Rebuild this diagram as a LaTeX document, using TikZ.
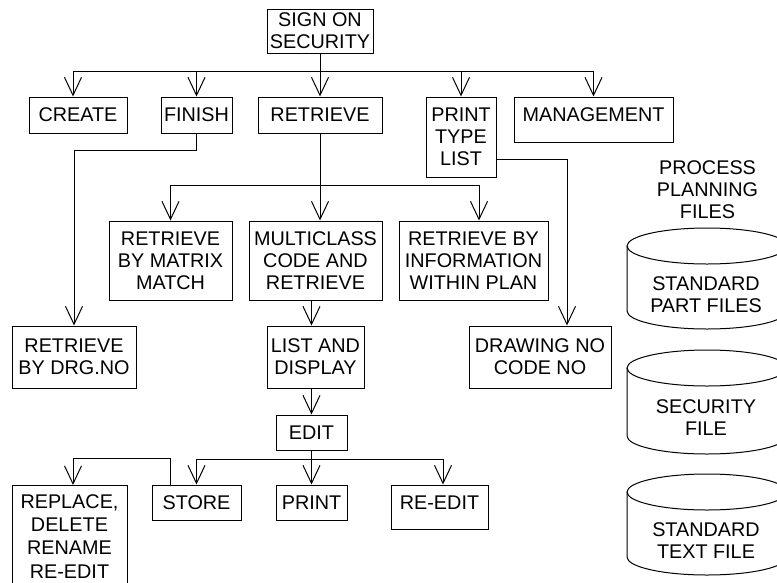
\documentclass[tikz,border=0pt]{standalone}
\usepackage{fontspec}
\setmainfont{Liberation Sans}
\usetikzlibrary{arrows.meta}

\begin{document}
\begin{tikzpicture}[x=1pt, y=-1pt, line width=1pt,
	box/.style={draw, align=center, inner sep=0pt, font=\fontsize{19.8}{22}\selectfont},
	txt/.style={align=center, inner sep=0pt, font=\fontsize{19.8}{22}\selectfont},
	arr/.style={-{Straight Barb[length=18pt, width=17pt]}}]
	\useasboundingbox (0,0) rectangle (777,582);
	
	% 第一层
	\node[box, minimum width=106pt, minimum height=44pt] (sign) at (320,31) {SIGN ON\\SECURITY};
	\node[box, minimum width=98pt, minimum height=36pt] (create) at (78,115) {CREATE};
	\node[box, minimum width=71pt, minimum height=36pt] (finish) at (196.5,115) {FINISH};
	\node[box, minimum width=124pt, minimum height=36pt] (retrieve) at (320,115) {RETRIEVE};
	\node[box, minimum width=70pt, minimum height=80pt] (ptype) at (461,137) {PRINT\\TYPE\\LIST};
	\node[box, minimum width=159pt, text height=24.7pt, text depth=20.3pt, anchor=base] (manage) at (593.5,121.7) {MANAGEMENT};
	
	% 检索
	\node[box, minimum width=123pt, minimum height=79pt] (matrix) at (170.5,260.5) {RETRIEVE\\BY MATRIX\\MATCH};
	\node[box, minimum width=133pt, minimum height=79pt] (multi) at (315.5,260.5) {MULTICLASS\\CODE AND\\RETRIEVE};
	\node[box, minimum width=149pt, minimum height=79pt] (info) at (473.5,260.5) {RETRIEVE BY\\INFORMATION\\WITHIN PLAN};
	\node[box, minimum width=124pt, minimum height=62pt] (drgno) at (74,357) {RETRIEVE\\BY DRG.NO};
	\node[box, minimum width=97pt, minimum height=62pt] (listd) at (315.5,357) {LIST AND\\DISPLAY};
	\node[box, minimum width=142pt, minimum height=62pt] (drawing) at (540,357) {DRAWING NO\\CODE NO};
	
	% 编辑
	\node[box, minimum width=71pt, minimum height=35pt] (edit) at (311.5,432.5) {EDIT};
	\node[box, minimum width=89pt, minimum height=35pt] (store) at (196.5,502.5) {STORE};
	\node[box, minimum width=71pt, minimum height=35pt] (printb) at (311.5,502.5) {PRINT};
	\node[box, minimum width=97pt, text height=24.3pt, text depth=19.7pt, anchor=base] (reedit) at (439.5,509.3) {RE-EDIT};
	\node[box, anchor=north, minimum width=115pt, inner ysep=9pt, font=\fontsize{19.8}{23.3}\selectfont] (replace) at (69.5,485) {REPLACE,\\DELETE\\RENAME\\RE-EDIT};
	
	% 第一层连线
	\coordinate (j1) at (320,71);
	\draw (sign.south) -- (j1);
	\draw[arr] (j1) -| ([xshift=-5pt]create.north);
	\draw[arr] (j1) -| (finish.north);
	\draw[arr] (j1) -- (retrieve.north);
	\draw[arr] (j1) -| (ptype.north);
	\draw[arr] (j1) -| (manage.north);
	
	% 检索连线
	\coordinate (j2) at (320,185);
	\draw (retrieve.south) -- (j2);
	\draw[arr] (j2) -| (matrix.north);
	\draw[arr] (j2) -- ([xshift=4.5pt]multi.north);
	\draw[arr] (j2) -| ([xshift=5.5pt]info.north);
	\draw[arr] (finish.south) -- ++(0,17) -| (drgno.north);
	\draw[arr] ([yshift=-22pt]ptype.east) -| ([xshift=27pt]drawing.north);
	\draw[arr] (multi.south -| edit.north) -- (listd.north -| edit.north);
	\draw[arr] (listd.south -| edit.north) -- (edit.north);
	
	% 编辑连线
	\coordinate (j3) at (311.5,459);
	\draw (edit.south) -- (j3);
	\draw[arr] (j3) -| (store.north);
	\draw[arr] (j3) -- (printb.north);
	\draw[arr] (j3) -| ([xshift=3.5pt]reedit.north);
	\draw[arr] ([xshift=19pt]store.north west) -- ++(0,-26) -| ([xshift=3.5pt]replace.north);
	
	% 文件
	\node[txt] (ppf) at (707.5,189.7) {PROCESS\\PLANNING\\FILES};
	\foreach \yt/\yb in {246/311, 368/436, 492/557} {
		\draw (707,\yt) ellipse [x radius=80pt, y radius=18pt];
		\draw (627,\yt) -- (627,\yb) arc[start angle=180, end angle=360, x radius=80pt, y radius=18pt] -- (787,\yt);
	}
	\node[txt] (spf) at (706,294.2) {STANDARD\\PART FILES};
	\node[txt] (secf) at (706,417.2) {SECURITY\\FILE};
	\node[txt] (stf) at (706,540.7) {STANDARD\\TEXT FILE};
\end{tikzpicture}
\end{document}
